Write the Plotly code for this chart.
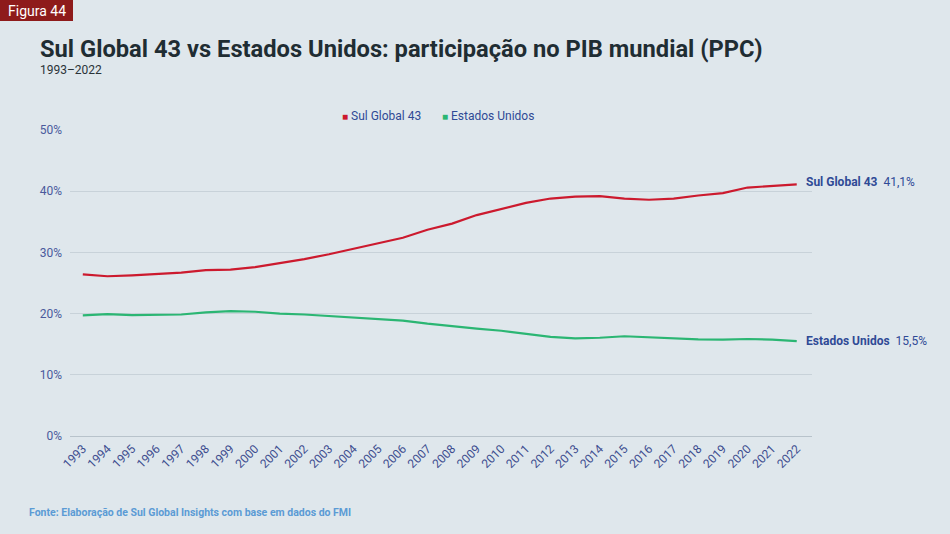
import plotly.graph_objects as go

years = list(range(1993, 2023))
sul_global = [26.4, 26.1, 26.25, 26.5, 26.7, 27.1, 27.2, 27.6, 28.2, 28.9,
              29.7, 30.6, 31.5, 32.4, 33.7, 34.7, 36.1, 37.1, 38.1, 38.8,
              39.1, 39.2, 38.8, 38.6, 38.8, 39.3, 39.7, 40.6, 40.9, 41.1]
eua = [19.7, 19.9, 19.75, 19.75, 19.85, 20.2, 20.4, 20.3, 20.0, 19.85,
       19.6, 19.4, 19.2, 18.85, 18.35, 17.9, 17.55, 17.2, 16.7, 16.2,
       15.95, 16.05, 16.3, 16.1, 15.9, 15.8, 15.75, 15.85, 15.75, 15.5]
y_ticks = [0, 10, 20, 30, 40, 50]
y_ticktext = [f"{v}%" for v in y_ticks]
series_names = ["Sul Global 43", "Estados Unidos"]

RED = "#cc1a2e"
GREEN = "#2bb673"
NAVY = "#2f4a96"
TICK = "#4a5a9c"
BG = "#dfe7ec"

PW, PH = 742, 306  # plot area size in px
def px_x(px):
    return (px - 70) / PW
def px_y(py):
    return (436 - py) / PH

fig = go.Figure()
fig.add_trace(go.Scatter(x=years, y=sul_global, mode="lines", line=dict(color=RED, width=2.2),
                         showlegend=False, name=series_names[0]))
fig.add_trace(go.Scatter(x=years, y=eua, mode="lines", line=dict(color=GREEN, width=2.2),
                         showlegend=False, name=series_names[1]))

# End labels
fig.add_annotation(x=years[-1], y=sul_global[-1], xref="x", yref="y", xanchor="left", yanchor="middle",
                   xshift=7, yshift=2, showarrow=False,
                   text=f"<b>{series_names[0]}</b>  {sul_global[-1]:.1f}%".replace(".", ","),
                   font=dict(family="Roboto", size=12, color=NAVY))
fig.add_annotation(x=years[-1], y=eua[-1], xref="x", yref="y", xanchor="left", yanchor="middle",
                   xshift=7, showarrow=False,
                   text=f"<b>{series_names[1]}</b>  {eua[-1]:.1f}%".replace(".", ","),
                   font=dict(family="Roboto", size=12, color=NAVY))

# Legend (manual, square markers)
fig.add_annotation(x=px_x(340), y=px_y(116), xref="paper", yref="paper", xanchor="left",
                   yanchor="middle", showarrow=False,
                   text=f'<span style="color:{RED};font-size:10px">■</span> {series_names[0]}',
                   font=dict(family="Roboto", size=12, color=NAVY))
fig.add_annotation(x=px_x(440), y=px_y(116), xref="paper", yref="paper", xanchor="left",
                   yanchor="middle", showarrow=False,
                   text=f'<span style="color:{GREEN};font-size:10px">■</span> {series_names[1]}',
                   font=dict(family="Roboto", size=12, color=NAVY))

# Figure badge
fig.add_shape(type="rect", xref="paper", yref="paper", x0=px_x(0), x1=px_x(73),
              y0=px_y(21), y1=px_y(0), fillcolor="#8e1b1b", line=dict(width=0))
fig.add_annotation(x=px_x(36.5), y=px_y(10.5), xref="paper", yref="paper",
                   xanchor="center", yanchor="middle", showarrow=False, text="Figura 44",
                   font=dict(family="Roboto", size=14, color="white"))

# Title & subtitle
fig.add_annotation(x=px_x(38), y=px_y(49), xref="paper", yref="paper",
                   xanchor="left", yanchor="middle", showarrow=False,
                   text="<b>Sul Global 43 vs Estados Unidos: participação no PIB mundial (PPC)</b>",
                   font=dict(family="Roboto", size=23.7, color="#1f2d33"))
fig.add_annotation(x=px_x(38), y=px_y(70), xref="paper", yref="paper",
                   xanchor="left", yanchor="middle", showarrow=False, text="1993–2022",
                   font=dict(family="Roboto", size=12, color="#2a3338"))
# Source
fig.add_annotation(x=px_x(27), y=px_y(512), xref="paper", yref="paper",
                   xanchor="left", yanchor="middle", showarrow=False,
                   text="<b>Fonte: Elaboração de Sul Global Insights com base em dados do FMI</b>",
                   font=dict(family="Roboto", size=10.5, color="#5b9bd5"))

fig.update_layout(
    width=950, height=534,
    margin=dict(l=70, r=138, t=130, b=98),
    paper_bgcolor=BG, plot_bgcolor=BG,
    font=dict(family="Roboto", color=TICK),
    showlegend=False,
    xaxis=dict(range=[1992.48, 2022.62], tickmode="array", tickvals=years,
               ticktext=[str(y) for y in years], tickangle=-45,
               tickfont=dict(family="Roboto", size=12, color="#3d4d8f"),
               showgrid=False, showline=True, linecolor="#b8c3cb", linewidth=1,
               zeroline=False, ticks=""),
    yaxis=dict(range=[0, 50], tickmode="array", tickvals=y_ticks, ticktext=y_ticktext,
               tickfont=dict(family="Roboto", size=12, color=TICK),
               showgrid=True, gridcolor="#c8d2d9", gridwidth=1, zeroline=False,
               ticklabelstandoff=7),
)

fig.write_html("out.html", config={"displayModeBar": False},
               post_script="document.body.style.margin='0';")
